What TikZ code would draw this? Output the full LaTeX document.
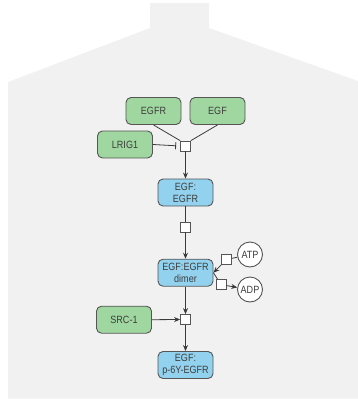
\documentclass[tikz,border=0pt]{standalone}
\usepackage{fontspec}
\newfontfamily\labfont[FakeStretch=0.86]{Liberation Sans}
\usetikzlibrary{arrows.meta}
\definecolor{bggray}{HTML}{F1F1F1}
\definecolor{cgreen}{HTML}{A0D6A0}
\definecolor{cblue}{HTML}{93D2EE}
\definecolor{edgegray}{HTML}{555555}
\definecolor{txtgray}{HTML}{3C3C3C}
\definecolor{linegray}{HTML}{3A3A3A}
\begin{document}
\begin{tikzpicture}[x=1pt,y=-1pt,
  font=\labfont\fontsize{10.5}{12}\selectfont,
  entity/.style={draw=edgegray,line width=0.9pt,rounded corners=5pt,minimum width=55pt,minimum height=27pt,inner sep=1pt,align=center,text=txtgray},
  protein/.style={entity,fill=cgreen},
  complexbox/.style={entity,fill=cblue},
  smallmol/.style={circle,draw=edgegray,line width=0.9pt,fill=white,minimum size=25pt,inner sep=0pt,text=txtgray},
  proc/.style={draw=edgegray,line width=0.8pt,fill=white,minimum size=10pt,inner sep=0pt},
  conn/.style={draw=linegray,line width=0.8pt},
  prod/.style={conn,-{Stealth[length=6pt,width=5pt]}},
  inhib/.style={conn,-{Bar[width=7pt,line width=0.9pt]}}
]
\useasboundingbox (0,0) rectangle (358,399);
\fill[bggray] (150,3) -- (209,3) -- (209,28) -- (358,81) -- (358,398.5) -- (8,398.5) -- (8,82) -- (150,28) -- cycle;

\node[protein] (egfr) at (153.5,111) {EGFR};
\node[protein] (egf) at (217.5,111) {EGF};
\node[protein] (lrig) at (125,144.5) {LRIG1};
\node[proc] (p1) at (185.5,146) {};
\node[complexbox] (c1) at (185.5,192.5) {EGF:\\EGFR};
\node[proc] (p2) at (185.5,227) {};
\node[complexbox] (dim) at (185.5,272.7) {EGF:EGFR\\dimer};
\node[smallmol] (atp) at (250,254.5) {ATP};
\node[smallmol] (adp) at (250,289.5) {ADP};
\node[proc] (p3) at (226.6,259.5) {};
\node[proc] (p4) at (221,284.7) {};
\node[protein] (src) at (124,319.7) {SRC-1};
\node[proc] (p5) at (185.5,319.5) {};
\node[complexbox] (fin) at (185.5,365) {EGF:\\p-6Y-EGFR};

\draw[conn] (egfr.south) -- (p1.north west);
\draw[conn] (egf.south) -- (p1.north east);
\draw[inhib,shorten >=4pt] (lrig.east) -- (p1.west);
\draw[prod] (p1.south) -- (c1.north);
\draw[conn] (c1.south) -- (p2.north);
\draw[prod] (p2.south) -- (dim.north);
\draw[conn] (atp) -- (p3);
\draw[prod] (p3) -- (dim.east);
\draw[conn] (dim.east) -- (p4);
\draw[prod] (p4) -- (adp);
\draw[prod] (dim.south) -- (p5.north);
\draw[prod] (src.east) -- (p5.west);
\draw[prod] (p5.south) -- (fin.north);
\end{tikzpicture}
\end{document}
